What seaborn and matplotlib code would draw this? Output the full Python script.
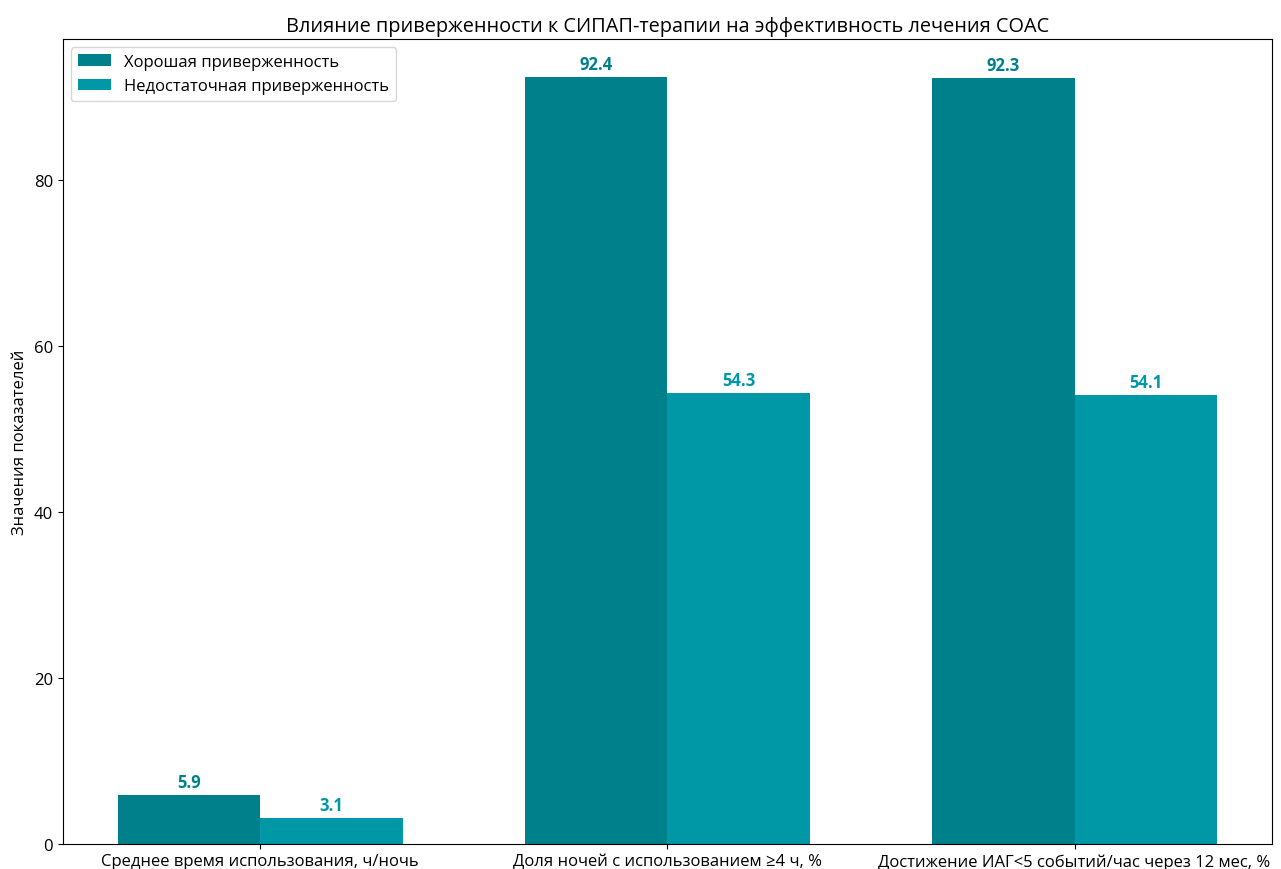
import matplotlib
matplotlib.use("Agg")
import matplotlib.pyplot as plt
import seaborn as sns
import pandas as pd

categories = ["Среднее время использования, ч/ночь",
              "Доля ночей с использованием ≥4 ч, %",
              "Достижение ИАГ<5 событий/час через 12 мес, %"]
groups = ["Хорошая приверженность", "Недостаточная приверженность"]
good_values = [5.9, 92.4, 92.3]
poor_values = [3.1, 54.3, 54.1]
colors = ["#00808a", "#0097a7"]

plt.rcParams["font.family"] = ["Open Sans", "DejaVu Sans"]

df = pd.DataFrame({
    "Показатель": categories * 2,
    "Группа": [groups[0]] * 3 + [groups[1]] * 3,
    "Значение": good_values + poor_values,
})

fig, ax = plt.subplots(figsize=(12.81, 8.70), dpi=100)
fig.subplots_adjust(left=0.049, right=0.993, top=0.954, bottom=0.029)

sns.barplot(data=df, x="Показатель", y="Значение", hue="Группа",
            palette=colors, width=0.7, ax=ax, saturation=1, errorbar=None)

for container, col in zip(ax.containers, colors):
    ax.bar_label(container, fmt="%.1f", padding=3, color=col,
                 fontweight="bold", fontsize=12)

ax.set_xlim(-0.485, 2.485)
ax.set_ylim(0, 97.02)
ax.set_xlabel("")
ax.set_ylabel("Значения показателей", fontsize=12)
ax.tick_params(labelsize=12)
ax.set_title("Влияние приверженности к СИПАП-терапии на эффективность лечения СОАС", fontsize=14.3)
ax.legend(loc="upper left", title=None, fontsize=12)

fig.savefig("out.png", dpi=100)
